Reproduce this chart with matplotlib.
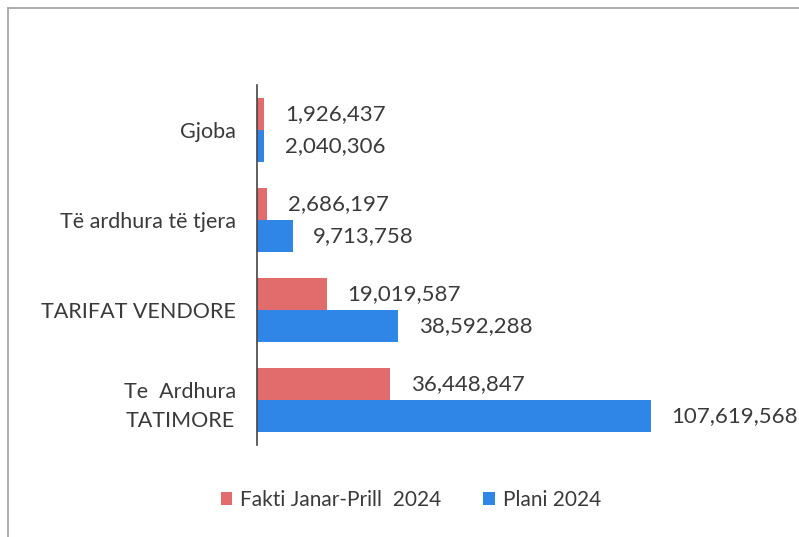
import numpy as np
import matplotlib.pyplot as plt
from matplotlib.lines import Line2D

categories = ["Te  Ardhura\nTATIMORE", "TARIFAT VENDORE", "Të ardhura të tjera", "Gjoba"]
fakti = [36448847, 19019587, 2686197, 1926437]
plani = [107619568, 38592288, 9713758, 2040306]
series_names = ["Fakti Janar-Prill  2024", "Plani 2024"]

red = "#e26b6b"
blue = "#2f86e6"
text_col = "#3a3a3a"

plt.rcParams["font.family"] = ["Lato", "DejaVu Sans"]

fig = plt.figure(figsize=(7.99, 5.37), dpi=100)
ax = fig.add_axes([257 / 799, 1 - 445 / 537, 439 / 799, 360 / 537])

y = np.arange(len(categories))
h = 0.36
b1 = ax.barh(y + h / 2, fakti, height=h, color=red, label=series_names[0])
b2 = ax.barh(y - h / 2, plani, height=h, color=blue, label=series_names[1])

for bars, vals in [(b1, fakti), (b2, plani)]:
    for bar, v in zip(bars, vals):
        ax.annotate(f"{v:,}", (bar.get_width(), bar.get_y() + bar.get_height() / 2),
                    xytext=(15, 0), textcoords="offset points",
                    va="center", ha="left", fontsize=16, color=text_col)

ax.set_xlim(0, 120000000)
ax.set_ylim(-0.5, 3.5)
ax.set_yticks(y)
ax.set_yticklabels(categories, fontsize=15.5, color=text_col,
                   multialignment="center", linespacing=1.55)
ax.tick_params(axis="y", length=0, pad=15)
ax.set_xticks([])
for s in ["top", "right", "bottom"]:
    ax.spines[s].set_visible(False)
ax.spines["left"].set_color("#444444")
ax.spines["left"].set_linewidth(1.2)

leg = fig.legend(loc="center", bbox_to_anchor=(411 / 799, 1 - 500 / 537), ncol=2,
                 frameon=False, fontsize=15, handlelength=0.55, handleheight=0.55,
                 columnspacing=2.0, handletextpad=0.4)
for t in leg.get_texts():
    t.set_color(text_col)

# outer chart border (only top and left visible in the scan)
x0, y0 = 8 / 799, 1 - 8 / 537
fig.lines.append(Line2D([x0, 1], [y0, y0], transform=fig.transFigure,
                        color="#a0a0a0", linewidth=1.2))
fig.lines.append(Line2D([x0, x0], [0, y0], transform=fig.transFigure,
                        color="#a0a0a0", linewidth=1.2))

fig.savefig("out.png", dpi=100)
